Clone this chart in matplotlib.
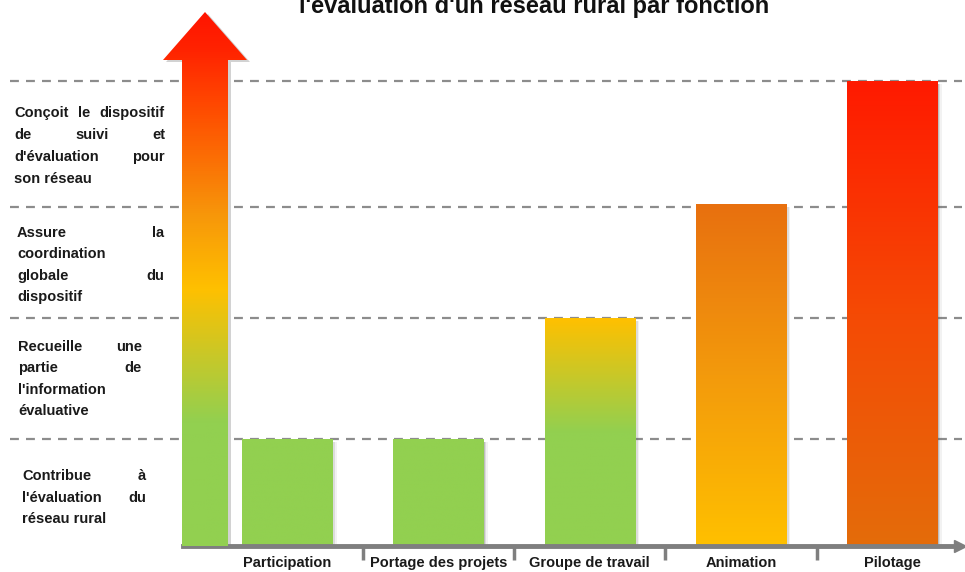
import matplotlib
matplotlib.use('Agg')
import matplotlib.pyplot as plt
import numpy as np
from matplotlib.colors import LinearSegmentedColormap
from matplotlib.patches import Polygon, Rectangle
from matplotlib.transforms import blended_transform_factory

# data
categories = ['Participation', 'Portage des projets', 'Groupe de travail', 'Animation', 'Pilotage']
levels = [23, 49, 73, 100]                # height of each function level
bar_values = [23, 23, 49, 73.5, 100]
level_labels = [
    ['Contribue à', "l'évaluation du", 'réseau rural'],
    ['Recueille une', 'partie de', "l'information", 'évaluative'],
    ['Assure la', 'coordination', 'globale du', 'dispositif'],
    ['Conçoit le dispositif', 'de suivi et', "d'évaluation pour", 'son réseau'],
]
title = "l'évaluation d'un réseau rural par fonction"

GREEN = '#92D050'
YELLOW = '#FFC000'
ORANGE = '#E8700F'
ORANGE2 = '#E46C0A'
RED = '#FF1A00'
# bottom -> top colours per bar
bar_grads = [
    [GREEN, GREEN],
    [GREEN, GREEN],
    [GREEN, GREEN, YELLOW],
    [YELLOW, '#F39A0C', ORANGE],
    [ORANGE2, '#F54A05', RED],
]

W, H = 965, 572
fig = plt.figure(figsize=(W / 100, H / 100), dpi=100)

# main axes (pixel placement measured on reference)
x0, x1, ybase, ytop = 183, 960, 546, 81
ax = fig.add_axes([x0 / W, 1 - ybase / H, (x1 - x0) / W, (ybase - ytop) / H])
ax.patch.set_alpha(0)

# dashed level lines, from left margin to right edge
tr = blended_transform_factory(fig.transFigure, ax.transData)
for lv in levels:
    ax.plot([10 / W, 962 / W], [lv, lv], transform=tr, color='#8c8c8c',
            lw=1.6, ls=(0, (4, 3.2)), clip_on=False, zorder=1)

# bars with vertical gradients
xs = np.arange(len(categories))
bars = ax.bar(xs, bar_values, width=0.595, color='none', zorder=3)
for b, cols in zip(bars, bar_grads):
    bx, bw, bh = b.get_x(), b.get_width(), b.get_height()
    # soft shadow on the right
    for k, a in enumerate([0.25, 0.15, 0.08]):
        ax.add_patch(Rectangle((bx + bw, 0), 0.01 * (k + 1), bh - 0.6,
                               color='#606060', alpha=a, lw=0, zorder=2))
    cmap = LinearSegmentedColormap.from_list('g', cols)
    grad = np.linspace(0, 1, 256).reshape(-1, 1)
    im = ax.imshow(grad, cmap=cmap, origin='lower', aspect='auto',
                   extent=[bx, bx + bw, 0, bh], zorder=4)
    im.set_clip_path(b)
ax.set_xlim(-0.687, 4.448)
ax.set_ylim(0, 100)

# axis styling
for s in ['top', 'right', 'left']:
    ax.spines[s].set_visible(False)
ax.spines['bottom'].set_color('#7f7f7f')
ax.spines['bottom'].set_linewidth(3.5)
ax.spines['bottom'].set_zorder(6)
ax.plot(1.0, 0, marker='>', ms=9, color='#7f7f7f', transform=ax.transAxes,
        clip_on=False, zorder=6)
ax.set_yticks([])
ax.set_xticks(xs)
ax.set_xticklabels(categories, fontsize=10.5, fontweight='bold', color='#1a1a1a',
                   family='Liberation Sans')
ax.tick_params(axis='x', which='major', length=0, pad=7)
ax.set_xticks(xs[:-1] + 0.5, minor=True)
ax.tick_params(axis='x', which='minor', length=10, width=2.5, color='#7f7f7f',
               direction='out')

# overlay in pixel coords for the gradient arrow and level texts
ov = fig.add_axes([0, 0, 1, 1], zorder=5)
ov.axis('off')
ov.patch.set_alpha(0)

arrow_pts = [(182, 546), (182, 60), (163, 60), (205, 12), (247, 60),
             (228, 60), (228, 546)]
shadow = Polygon([(x + 3, y + 2) for x, y in arrow_pts], closed=True,
                 color='#808080', alpha=0.35, lw=0, zorder=1)
ov.add_patch(shadow)
arrow = Polygon(arrow_pts, closed=True, fc='none', ec='none')
ov.add_patch(arrow)
arrow_cmap = LinearSegmentedColormap.from_list('a', [
    (0.0, GREEN), (0.23, GREEN), (0.48, YELLOW), (0.62, '#F7960A'),
    (0.82, '#FF4A00'), (0.93, '#FF2200'), (1.0, '#FF1400')])
g = np.linspace(0, 1, 512).reshape(-1, 1)
aim = ov.imshow(g, cmap=arrow_cmap, origin='lower', aspect='auto',
                extent=[160, 250, 546, 10], zorder=2)
aim.set_clip_path(arrow)
ov.set_xlim(0, W)
ov.set_ylim(H, 0)

# justified level descriptions
blocks = [  # left, right, first line y, line spacing
    (22, 146, 476, 21.5),
    (18, 142, 347, 21.3),
    (17, 164, 233, 21.3),
    (14, 165, 113, 22),
]
renderer = fig.canvas.get_renderer()
tfont = dict(fontsize=10.5, fontweight='bold', color='#1a1a1a', family='Liberation Sans')
for lines, (left, right, y0, dy) in zip(level_labels, blocks):
    for i, line in enumerate(lines):
        y = y0 + i * dy
        words = line.split()
        last = i == len(lines) - 1
        if len(words) == 1 or last:
            ov.text(left, y, line, ha='left', va='center', **tfont)
            continue
        ts = [ov.text(0, y, w, ha='left', va='center', **tfont) for w in words]
        widths = [t.get_window_extent(renderer).width for t in ts]
        gap = (right - left - sum(widths)) / (len(words) - 1)
        x = left
        for t, wd in zip(ts, widths):
            t.set_x(x)
            x += wd + gap

# title, clipped by the top edge as in the reference
fig.text(534 / W, 1 - 13 / H, title, ha='center', va='baseline',
         fontsize=17, fontweight='bold', color='#111111', family='Liberation Sans')

fig.savefig('out.png', dpi=100)
